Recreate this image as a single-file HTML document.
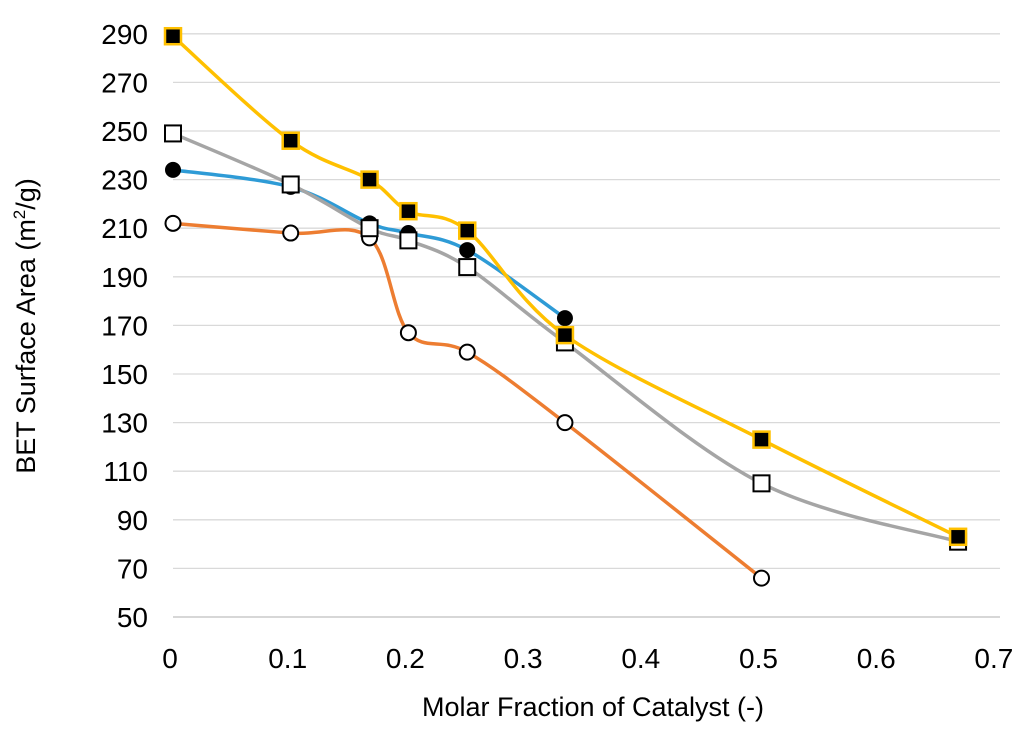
<!DOCTYPE html>
<html><head><meta charset="utf-8"><style>
body{margin:0;background:#fff}
svg text{font-family:"Liberation Sans",sans-serif;fill:#000}
</style></head><body>
<svg id="chart" width="1024" height="727" viewBox="0 0 1024 727" xmlns="http://www.w3.org/2000/svg">
<g id="grid"></g>
<g id="yticks"></g>
<g id="xticks"></g>
<g id="series"></g>
<text x="593" y="716" font-size="27" text-anchor="middle">Molar Fraction of Catalyst (-)</text>
<text transform="translate(35,326) rotate(-90)" font-size="27" text-anchor="middle">BET Surface Area (m<tspan font-size="17" dy="-10">2</tspan><tspan dy="10">/g)</tspan></text>
</svg>
<script>
const yTicks=[50,70,90,110,130,150,170,190,210,230,250,270,290];
const xTicks=[0,0.1,0.2,0.3,0.4,0.5,0.6,0.7];
const xOrange=[0,0.1,0.167,0.2,0.25,0.333,0.5];
const yOrange=[212,208,206,167,159,130,66];
const xBlue=[0,0.1,0.167,0.2,0.25,0.333];
const yBlue=[234,227,212,208,201,173];
const xGray=[0,0.1,0.167,0.2,0.25,0.333,0.5,0.667];
const yGray=[249,228,210,205,194,163,105,81];
const xYellow=[0,0.1,0.167,0.2,0.25,0.333,0.5,0.667];
const yYellow=[289,246,230,217,209,166,123,83];
const NS="http://www.w3.org/2000/svg";
const X=v=>173+v*1177;
const Y=v=>617-(v-50)*2.43;
function mk(tag,attrs,parent){const e=document.createElementNS(NS,tag);for(const k in attrs)e.setAttribute(k,attrs[k]);parent.appendChild(e);return e;}
const grid=document.getElementById('grid'),yt=document.getElementById('yticks'),xt=document.getElementById('xticks'),sg=document.getElementById('series');
yTicks.forEach(t=>{
 const l=mk('line',{x1:173,x2:1000,y1:Y(t),y2:Y(t),stroke:t===50?'#bfbfbf':'#d9d9d9','stroke-width':1.3},grid);
 
 
 const tx=mk('text',{x:148,y:Y(t)+10,'font-size':28,'text-anchor':'end'},yt);tx.textContent=t;
 
 
});
xTicks.forEach(t=>{
 const tx=mk('text',{x:X(t)-3,y:668,'font-size':28,'text-anchor':'middle'},xt);tx.textContent=t;
 
 
});
function path(xs,ys){
 const p=xs.map((x,i)=>[X(x),Y(ys[i])]);let d='M'+p[0][0]+','+p[0][1];
 for(let i=0;i<p.length-1;i++){const p0=p[i-1]||p[i],p1=p[i],p2=p[i+1],p3=p[i+2]||p2;const t=6;
  d+=` C${p1[0]+(p2[0]-p0[0])/t},${p1[1]+(p2[1]-p0[1])/t} ${p2[0]-(p3[0]-p1[0])/t},${p2[1]-(p3[1]-p1[1])/t} ${p2[0]},${p2[1]}`;}
 return d;
}
function series(name,xs,ys,color,marker){
 const g=mk('g',{},sg);
 
 
 const l=mk('path',{d:path(xs,ys),fill:'none',stroke:color,'stroke-width':3.5},g);
 
 
 xs.forEach((x,i)=>{let m;
  if(marker==='oc')m=mk('circle',{cx:X(x),cy:Y(ys[i]),r:7.5,fill:'#fff',stroke:'#000','stroke-width':2},g);
  else if(marker==='fc')m=mk('circle',{cx:X(x),cy:Y(ys[i]),r:8,fill:'#000'},g);
  else if(marker==='os')m=mk('rect',{x:X(x)-8,y:Y(ys[i])-8,width:16,height:16,fill:'#fff',stroke:'#000','stroke-width':2},g);
  else m=mk('rect',{x:X(x)-8,y:Y(ys[i])-8,width:16,height:16,fill:'#000',stroke:'#ffc000','stroke-width':2.5},g);
  
  
 });
}
series('series-orange',xOrange,yOrange,'#ed7d31','oc');
series('series-blue',xBlue,yBlue,'#2e9bd6','fc');
series('series-gray',xGray,yGray,'#a5a5a5','os');
series('series-yellow',xYellow,yYellow,'#ffc000','fs');
</script>
</body></html>
